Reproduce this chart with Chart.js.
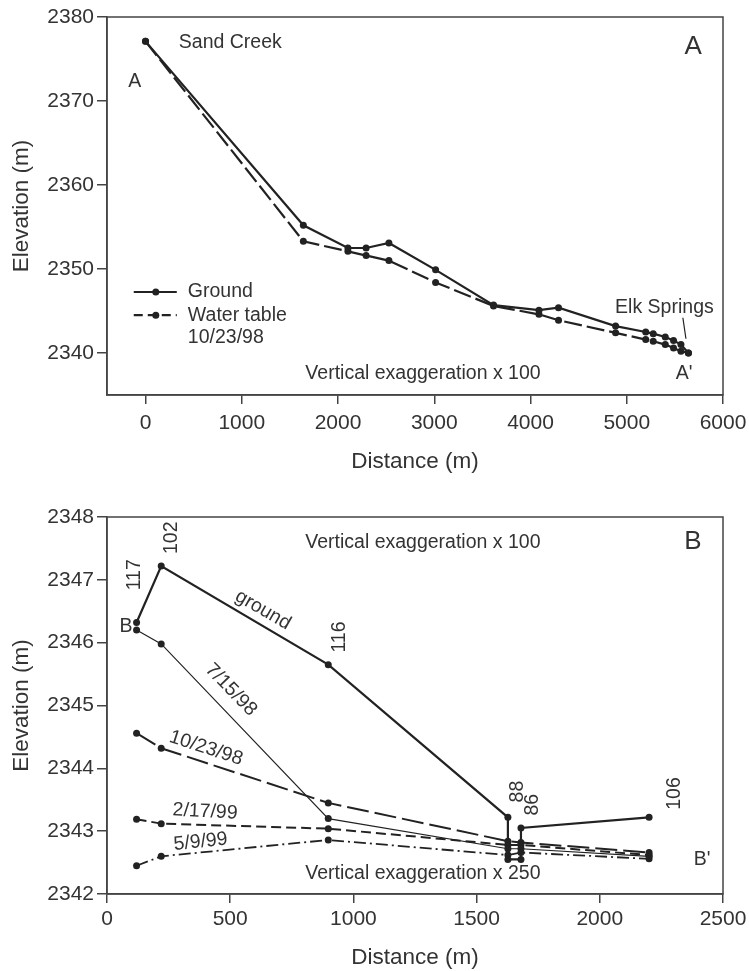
<!DOCTYPE html>
<html>
<head>
<meta charset="utf-8">
<script src="https://cdn.jsdelivr.net/npm/chart.js@4.4.1/dist/chart.umd.min.js"></script>
<style>
  body { margin: 0; background: #fff; }
  #wrap { position: relative; width: 749px; height: 971px; }
  canvas { position: absolute; left: 0; }
</style>
</head>
<body>
<div id="wrap">
  <canvas id="profilA" width="749" height="480" style="top:0"></canvas>
  <canvas id="profilB" width="749" height="491" style="top:480px"></canvas>
</div>
<script>
// --- section A-A' : Sand Creek to Elk Springs ---
const distA   = [0, 1640, 2103, 2292, 2529, 3014, 3616, 4088, 4291, 4884, 5197, 5275, 5400, 5486, 5563, 5641];
const groundA = [2377.1, 2355.2, 2352.5, 2352.5, 2353.1, 2349.9, 2345.7, 2345.1, 2345.4, 2343.2, 2342.5, 2342.3, 2341.9, 2341.5, 2341.0, 2340.0];
const waterA  = [2377.1, 2353.3, 2352.1, 2351.6, 2351.0, 2348.4, 2345.6, 2344.6, 2343.9, 2342.4, 2341.6, 2341.4, 2341.0, 2340.6, 2340.2, 2340.0];
const distTicksA = [0, 1000, 2000, 3000, 4000, 5000, 6000];
const elevTicksA = [2340, 2350, 2360, 2370, 2380];

// --- section B-B' : wells 117 .. 106 ---
const wellsB      = ['117', '102', '116', '88', '86', '106'];
const groundDistB = [120, 220, 898, 1627, 1627, 1680, 1680, 2200];
const groundB     = [2346.32, 2347.22, 2345.65, 2343.22, 2342.55, 2342.55, 2343.05, 2343.22];
const distB       = [120, 220, 898, 1627, 1680, 2200];
const wt071598    = [2346.20, 2345.98, 2343.20, 2342.72, 2342.72, 2342.60];
const wt102398    = [2344.56, 2344.32, 2343.45, 2342.84, 2342.82, 2342.66];
const wt021799    = [2343.19, 2343.12, 2343.04, 2342.78, 2342.78, 2342.62];
const wt050999    = [2342.45, 2342.60, 2342.86, 2342.62, 2342.66, 2342.56];
const distTicksB = [0, 500, 1000, 1500, 2000, 2500];
const elevTicksB = [2342, 2343, 2344, 2345, 2346, 2347, 2348];

const FONT = "'Liberation Sans', Arial, Helvetica, sans-serif";
const INK = '#222';
const TXT = '#333';
const BOX = '#444';

const pts = (xs, ys) => xs.map((x, i) => ({ x: x, y: ys[i] }));

function serie(data, width, dash) {
  return {
    data: data,
    borderColor: INK,
    borderWidth: width,
    borderDash: dash || [],
    pointRadius: 3.5,
    pointHoverRadius: 3.5,
    pointBackgroundColor: INK,
    pointBorderWidth: 0,
    tension: 0,
    fill: false
  };
}

function escales(xr, yr, xTicks, yTicks, xAxisH, xLabelPad, xTitlePad) {
  return {
    x: {
      type: 'linear', min: xr[0], max: xr[1],
      afterBuildTicks: s => { s.ticks = xTicks.map(v => ({ value: v })); },
      // fixed height, and no extra room for the end labels: the layout padding covers them
      afterFit: s => { s.height = xAxisH; s.paddingLeft = 0; s.paddingRight = 0; },
      grid: { drawOnChartArea: false, drawTicks: true, tickLength: 9, color: BOX, lineWidth: 1.5 },
      border: { color: BOX, width: 1.5 },
      ticks: { color: TXT, font: { family: FONT, size: 21 }, padding: xLabelPad, maxRotation: 0, autoSkip: false,
               callback: v => String(v) },
      title: { display: true, text: 'Distance (m)', color: TXT, font: { family: FONT, size: 22.5 },
               padding: { top: 0, bottom: xTitlePad } }
    },
    y: {
      type: 'linear', min: yr[0], max: yr[1],
      afterBuildTicks: s => { s.ticks = yTicks.map(v => ({ value: v })); },
      afterFit: s => { s.width = 107; s.paddingTop = 0; s.paddingBottom = 0; },
      grid: { drawOnChartArea: false, drawTicks: true, tickLength: 10, color: BOX, lineWidth: 1.5 },
      border: { color: BOX, width: 1.5 },
      ticks: { color: TXT, font: { family: FONT, size: 21 }, padding: 3, autoSkip: false,
               callback: v => String(v) },
      title: { display: true, text: 'Elevation (m)', color: TXT, font: { family: FONT, size: 22.5 },
               padding: { top: 8.5, bottom: 0 } }
    }
  };
}

// text labels and the frame, drawn over the lines
function notes(items, extra) {
  return {
    id: 'notes',
    afterDatasetsDraw(chart) {
      const { ctx, chartArea: a } = chart;
      const sx = chart.scales.x, sy = chart.scales.y;
      ctx.save();
      ctx.strokeStyle = BOX;
      ctx.lineWidth = 1.5;
      ctx.strokeRect(a.left, a.top, a.right - a.left, a.bottom - a.top);
      for (const n of items) {
        ctx.save();
        ctx.translate(sx.getPixelForValue(n.x), sy.getPixelForValue(n.y));
        ctx.rotate((n.rot || 0) * Math.PI / 180);
        ctx.font = (n.size || 19.5) + 'px ' + FONT;
        ctx.fillStyle = TXT;
        ctx.textAlign = n.align || 'center';
        ctx.textBaseline = 'middle';
        ctx.fillText(n.text, 0, 0);
        ctx.restore();
      }
      if (extra) extra(ctx, sx, sy);
      ctx.restore();
    }
  };
}

// legend of section A, plus leader to Elk Springs
function legendA(ctx, sx, sy) {
  const rows = [[2347.26, []], [2344.5, [9, 5]]];
  ctx.strokeStyle = INK;
  ctx.fillStyle = INK;
  ctx.lineWidth = 2.2;
  for (const [yv, dash] of rows) {
    const py = sy.getPixelForValue(yv);
    ctx.setLineDash(dash);
    ctx.beginPath();
    ctx.moveTo(sx.getPixelForValue(-122), py);
    ctx.lineTo(sx.getPixelForValue(325), py);
    ctx.stroke();
    ctx.setLineDash([]);
    ctx.beginPath();
    ctx.arc(sx.getPixelForValue(107), py, 3.5, 0, Math.PI * 2);
    ctx.fill();
  }
  ctx.lineWidth = 1.2;
  ctx.beginPath();
  ctx.moveTo(sx.getPixelForValue(5583), sy.getPixelForValue(2344.2));
  ctx.lineTo(sx.getPixelForValue(5615), sy.getPixelForValue(2341.7));
  ctx.stroke();
}

const notesA = [
  { text: 'Sand Creek', x: 346, y: 2377.0, align: 'left' },
  { text: 'A', x: -111, y: 2372.3 },
  { text: 'A', x: 5690, y: 2376.4, size: 26 },
  { text: 'Ground', x: 440, y: 2347.26, align: 'left' },
  { text: 'Water table', x: 440, y: 2344.5, align: 'left' },
  { text: '10/23/98', x: 440, y: 2341.8, align: 'left' },
  { text: 'Elk Springs', x: 4879, y: 2345.4, align: 'left' },
  { text: 'Vertical exaggeration x 100', x: 2883, y: 2337.5 },
  { text: "A'", x: 5596, y: 2337.5 }
];

const notesB = [
  { text: 'B', x: 2378, y: 2347.6, size: 26 },
  { text: 'Vertical exaggeration x 100', x: 1282, y: 2347.59 },
  { text: wellsB[0], x: 114, y: 2347.08, rot: -90 },
  { text: wellsB[1], x: 264, y: 2347.67, rot: -90 },
  { text: wellsB[2], x: 946, y: 2346.09, rot: -90 },
  { text: wellsB[3], x: 1668, y: 2343.63, rot: -90 },
  { text: wellsB[4], x: 1728, y: 2343.42, rot: -90 },
  { text: wellsB[5], x: 2305, y: 2343.6, rot: -90 },
  { text: 'B', x: 77, y: 2346.25 },
  { text: 'ground', x: 633, y: 2346.52, rot: 30 },
  { text: '7/15/98', x: 503, y: 2345.25, rot: 46 },
  { text: '10/23/98', x: 402, y: 2344.32, rot: 18 },
  { text: '2/17/99', x: 398, y: 2343.31, rot: 3 },
  { text: '5/9/99', x: 380, y: 2342.83, rot: -6 },
  { text: 'Vertical exaggeration x 250', x: 1282, y: 2342.33 },
  { text: "B'", x: 2415, y: 2342.54 }
];

const base = {
  responsive: false,
  animation: false,
  events: [],
  plugins: { legend: { display: false }, tooltip: { enabled: false } }
};

new Chart(document.getElementById('profilA'), {
  type: 'line',
  data: {
    datasets: [
      serie(pts(distA, groundA), 2.2),
      serie(pts(distA, waterA), 2.2, [18, 5])
    ]
  },
  options: Object.assign({}, base, {
    layout: { padding: { top: 17, right: 26, left: 0, bottom: 0 } },
    scales: escales([-400, 6000], [2335, 2380], distTicksA, elevTicksA, 85, 7, 4.5)
  }),
  plugins: [notes(notesA, legendA)]
});

new Chart(document.getElementById('profilB'), {
  type: 'line',
  data: {
    datasets: [
      serie(pts(groundDistB, groundB), 2.2),
      serie(pts(distB, wt071598), 1.2),
      serie(pts(distB, wt102398), 2, [22, 6]),
      serie(pts(distB, wt021799), 2, [10, 5]),
      serie(pts(distB, wt050999), 1.8, [12, 4, 2, 4])
    ]
  },
  options: Object.assign({}, base, {
    layout: { padding: { top: 37, right: 26, left: 0, bottom: 0 } },
    scales: escales([0, 2500], [2342, 2348], distTicksB, elevTicksB, 77, 4, 0)
  }),
  plugins: [notes(notesB)]
});
</script>
</body>
</html>
